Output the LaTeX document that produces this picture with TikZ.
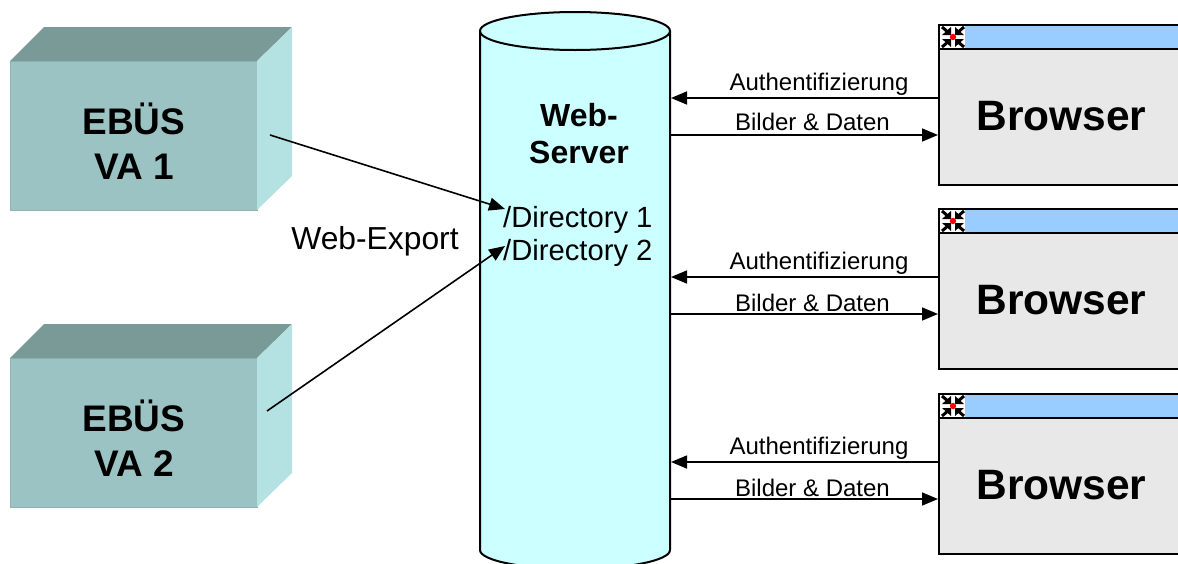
\documentclass[tikz,border=0pt]{standalone}
\usepackage{fontspec}
\setmainfont{Liberation Sans}
\usetikzlibrary{arrows.meta,calc}
\definecolor{boxfront}{HTML}{9CC3C3}
\definecolor{boxtop}{HTML}{7A9A97}
\definecolor{boxside}{HTML}{B4E1E1}
\definecolor{boxedge}{HTML}{8DB3B3}
\definecolor{cylfill}{HTML}{CCFFFF}
\definecolor{titlefill}{HTML}{99CCFF}
\definecolor{bodyfill}{HTML}{E8E8E8}
\tikzset{
  x=1pt,y=-1pt,
  conn/.style={line width=1.6pt,-{Triangle[length=16pt,width=13pt]}},
  outl/.style={draw=black,line width=2pt},
  boxtext/.style={font=\fontsize{37}{45}\selectfont\bfseries,align=center,inner sep=0pt},
  browsertext/.style={font=\fontsize{42.5}{48}\selectfont\bfseries,inner sep=0pt},
  small/.style={font=\fontsize{24}{28}\selectfont,inner sep=0pt},
  dirtext/.style={font=\fontsize{29.2}{32}\selectfont,inner sep=0pt,anchor=west},
}
\newcommand{\vabox}[3]{%
  \fill[boxfront] (10,#1+34) rectangle (257,#1+183);
  \draw[boxedge,line width=1pt] (10,#1+34) -- (10,#1+183) -- (257,#1+183) -- (257,#1+34) -- cycle;
  \fill[boxtop] (10,#1+34) -- (44,#1) -- (292,#1) -- (257,#1+34) -- cycle;
  \fill[boxside] (257,#1+34) -- (292,#1) -- (292,#1+149) -- (257,#1+183) -- cycle;
  \node[boxtext] (#2) at (134,#1+114) {EBÜS\\VA #3};
}
\newcommand{\browser}[4]{%
  \fill[bodyfill] (939,#1) rectangle (1178,#1+160);
  \fill[titlefill] (939,#1) rectangle (1178,#1+24);
  \draw[outl] (1180,#1) -- (939,#1) -- (939,#1+160) -- (1180,#1+160);
  \draw[outl] (939,#1+24) -- (1180,#1+24);
  \fill[white] (940,#1+1) rectangle (965,#1+23);
  \foreach \sx/\sy in {-1/-1,1/-1,-1/1,1/1}{
    \draw[black,line width=3pt] ($(953,#1+12)+(\sx*11,\sy*10)$) -- ($(953,#1+12)+(\sx*4,\sy*4)$);
    \fill[black] ($(953,#1+12)+(\sx*2,\sy*2)$) -- ($(953,#1+12)+(\sx*11,\sy*2)$) -- ($(953,#1+12)+(\sx*2,\sy*10)$) -- cycle;
  }
  \fill[red] (953,#1+12) circle (3.2pt);
  \node[browsertext] (#2) at (1061.5,#1+91) {Browser};
  \coordinate (#2-in) at (938,#1+#4);
  \coordinate (#2-out) at (939,#1+#3);
}
\begin{document}
\begin{tikzpicture}
\useasboundingbox (0,0) rectangle (1178,563);
\begin{scope}
\clip (0,0) rectangle (1178,563);
% server
\fill[cylfill] (480,31) -- (480,550) arc[start angle=180,end angle=360,x radius=95,y radius=-19] -- (670,31) -- cycle;
\fill[cylfill] (575,31) ellipse[x radius=95,y radius=19];
\draw[outl] (480,31) -- (480,550) arc[start angle=180,end angle=360,x radius=95,y radius=-19] -- (670,31);
\draw[outl] (575,31) ellipse[x radius=95,y radius=19];
\vabox{27}{va1}{1}
\vabox{324}{va2}{2}
\browser{25}{b1}{73}{110}
\browser{209}{b2}{68}{105}
\browser{394}{b3}{68}{105}
\end{scope}
\node[font=\fontsize{32}{37}\selectfont\bfseries,align=center,inner sep=0pt] (srv) at (579,134) {Web-\\Server};
\node[dirtext] (d1) at (503,220) {/Directory 1};
\node[dirtext] (d2) at (503,253) {/Directory 2};
\node[font=\fontsize{31.8}{36}\selectfont,inner sep=0pt] (we) at (375,241) {Web-Export};
\coordinate (s1a) at (671,98);  \coordinate (s1b) at (671,135);
\coordinate (s2a) at (671,277); \coordinate (s2b) at (671,314);
\coordinate (s3a) at (671,462); \coordinate (s3b) at (671,499);
\draw[conn] (b1-out) -- (s1a);
\draw[conn] (s1b) -- (b1-in);
\draw[conn] (b2-out) -- (s2a);
\draw[conn] (s2b) -- (b2-in);
\draw[conn] (b3-out) -- (s3a);
\draw[conn] (s3b) -- (b3-in);
\node[small] (a1) at (819,84) {Authentifizierung};
\node[small] (a2) at (819,263) {Authentifizierung};
\node[small] (a3) at (819,448) {Authentifizierung};
\node[small] (d1l) at (812.5,122) {Bilder \& Daten};
\node[small] (d2l) at (812.5,303) {Bilder \& Daten};
\node[small] (d3l) at (812.5,488) {Bilder \& Daten};
\coordinate (e1) at (270,135);
\coordinate (e2) at (267,411);
\coordinate (t1) at (505,209);
\coordinate (t2) at (505,246);
\draw[conn] (e1) -- (t1);
\draw[conn] (e2) -- (t2);
\end{tikzpicture}
\end{document}
